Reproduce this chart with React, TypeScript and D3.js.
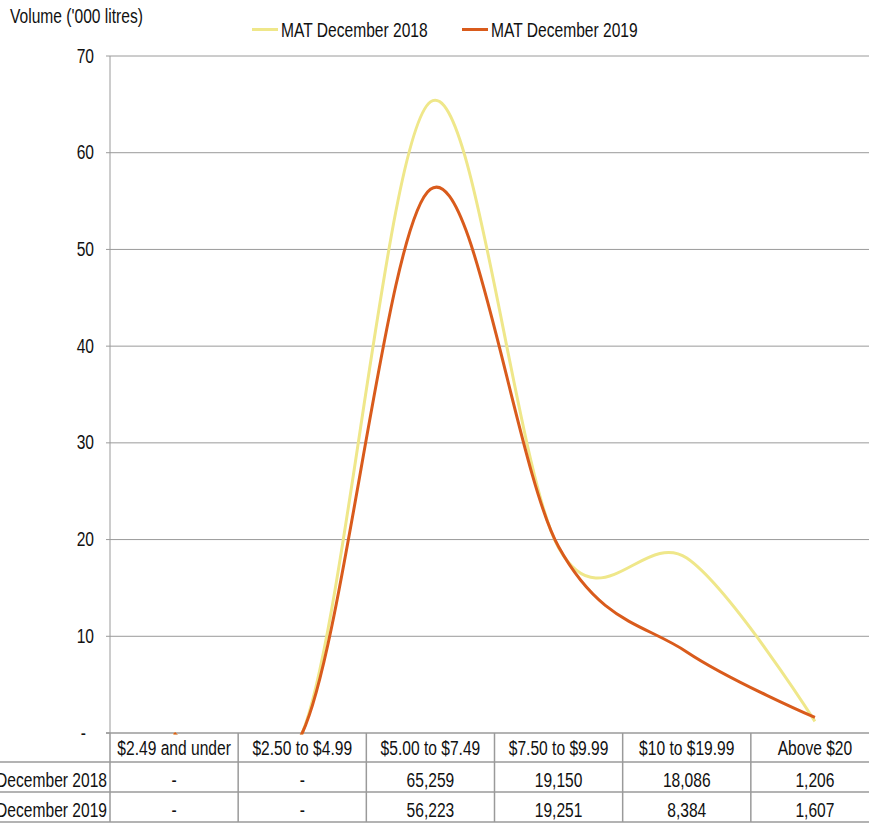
import React from "react";
import * as d3 from "d3";

const categories = ["$2.49 and under", "$2.50 to $4.99", "$5.00 to $7.49", "$7.50 to $9.99", "$10 to $19.99", "Above $20"];
const mat2018 = [0, 0, 65259, 19150, 18086, 1206];
const mat2019 = [0, 0, 56223, 19251, 8384, 1607];
const seriesNames = ["MAT December 2018", "MAT December 2019"];
const seriesColors = ["#EFE78A", "#D95B1C"];
const yTicks = [0, 10, 20, 30, 40, 50, 60, 70];
const yTitle = "Volume ('000 litres)";

const W = 869;
const H = 823;
const SX = 0.8;
const FS = 19.5;
const FONT = "'Liberation Sans', Arial, sans-serif";

function T({ x, y, anchor = "start", children }: { x: number; y: number; anchor?: string; children: any }) {
  return (
    <text
      transform={`translate(${x},${y}) scale(${SX},1)`}
      textAnchor={anchor as any}
      fontSize={FS}
      fontFamily={FONT}
      fill="#111"
    >
      {children}
    </text>
  );
}

export default function App() {
  const left = 110;
  const top = 56;
  const bottom = 733;
  const x = d3.scaleBand<string>().domain(categories).range([left, 879]).padding(0);
  const y = d3.scaleLinear().domain([0, 70]).range([bottom, top]);
  const cx = (c: string) => (x(c) as number) + x.bandwidth() / 2;
  const line = d3
    .line<[string, number]>()
    .x((d) => cx(d[0]))
    .y((d) => y(d[1] / 1000))
    .curve(d3.curveCardinal.tension(0));
  const series = [mat2018, mat2019];
  const fmt = d3.format(",");
  const cell = (v: number) => (v === 0 ? "-" : fmt(v));
  const rowY = [762, 792, 822];
  const gridColor = "#9a9a9a";

  return (
    <svg width={W} height={H} style={{ position: "absolute", left: 0, top: 0, background: "#fff" }}>
      <defs>
        <clipPath id="plotClip">
          <rect x={left} y={0} width={W - left} height={bottom + 1.5} />
        </clipPath>
      </defs>
      {/* gridlines */}
      {yTicks.map((t) => (
        <g key={t}>
          {t > 0 && <line x1={left} x2={W} y1={y(t)} y2={y(t)} stroke={gridColor} strokeWidth={1} />}
          <line x1={left - 4} x2={left} y1={y(t)} y2={y(t)} stroke={gridColor} strokeWidth={1} />
          {t === 0 ? (
            <T x={86} y={y(t) + 6.5} anchor="end">-</T>
          ) : (
            <T x={94} y={y(t) + 6.5} anchor="end">{t}</T>
          )}
        </g>
      ))}
      {/* y axis */}
      <line x1={left} x2={left} y1={top} y2={bottom} stroke={gridColor} strokeWidth={1} />
      <T x={10} y={22.5}>{yTitle}</T>

      {/* axis line / table top */}
      <line x1={left - 4} x2={W} y1={bottom} y2={bottom} stroke={gridColor} strokeWidth={1.5} />

      {/* lines */}
      <g clipPath="url(#plotClip)">
        {series.map((s, i) => (
          <path
            key={i}
            d={line(categories.map((c, j) => [c, s[j]] as [string, number])) as string}
            fill="none"
            stroke={seriesColors[i]}
            strokeWidth={3}
            strokeLinecap="butt"
          />
        ))}
      </g>

      {/* table */}
      {rowY.map((ry) => (
        <line key={ry} x1={0} x2={W} y1={ry} y2={ry} stroke={gridColor} strokeWidth={1.5} />
      ))}
      {categories.map((c) => (
        <line key={c} x1={x(c) as number} x2={x(c) as number} y1={bottom} y2={822} stroke={gridColor} strokeWidth={1.5} />
      ))}
      {categories.map((c) => (
        <T key={"h" + c} x={cx(c)} y={755} anchor="middle">{c}</T>
      ))}
      {series.map((s, i) => (
        <g key={"r" + i}>
          <T x={107} y={786.5 + i * 30} anchor="end">{seriesNames[i]}</T>
          {categories.map((c, j) => (
            <T key={c} x={cx(c)} y={786.5 + i * 30} anchor="middle">{cell(s[j])}</T>
          ))}
        </g>
      ))}

      {/* legend */}
      {[252, 462].map((lx, i) => (
        <g key={"l" + i}>
          <line x1={lx} x2={lx + 26} y1={29.5} y2={29.5} stroke={seriesColors[i]} strokeWidth={3} />
          <T x={lx + 29} y={36.5}>{seriesNames[i]}</T>
        </g>
      ))}
    </svg>
  );
}
